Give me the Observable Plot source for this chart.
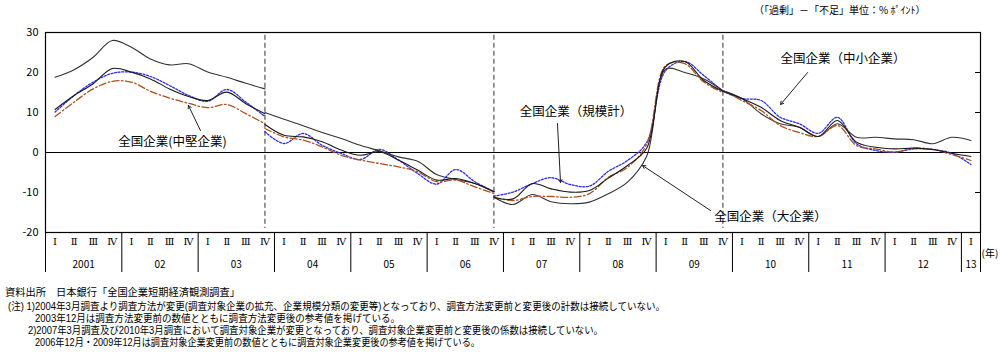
<!DOCTYPE html>
<html><head><meta charset="utf-8">
<script src="https://cdn.jsdelivr.net/npm/d3@7"></script>
<script src="https://cdn.jsdelivr.net/npm/@observablehq/plot@0.6"></script>
<style>
body{margin:0;background:#fff;font-family:"Noto Sans CJK JP",sans-serif;color:#000;}
#wrap{position:relative;width:1000px;height:355px;overflow:hidden;}
#title{position:absolute;left:754px;top:2px;font-size:10px;white-space:nowrap;}
#chart{position:absolute;left:0;top:20px;}
.note{position:absolute;font-family:"Liberation Sans","Noto Sans CJK JP",sans-serif;font-size:10.2px;white-space:nowrap;line-height:11px;height:11px;transform-origin:0 50%;}
</style></head><body>
<div id="wrap">
<div id="title">（「過剰」－「不足」単位：% ﾎﾟｲﾝﾄ）</div>
<div id="chart"></div>
<div class="note" data-end="240" style="left:5px;top:287px;">資料出所　日本銀行「全国企業短期経済観測調査」</div>
<div class="note" data-end="665" style="left:8px;top:301px;">(注) 1)2004年3月調査より調査方法が変更(調査対象企業の拡充、企業規模分類の変更等)となっており、調査方法変更前と変更後の計数は接続していない。</div>
<div class="note" data-end="400" style="left:35px;top:313px;">2003年12月は調査方法変更前の数値とともに調査方法変更後の参考値を掲げている。</div>
<div class="note" data-end="603" style="left:28px;top:325px;">2)2007年3月調査及び2010年3月調査において調査対象企業が変更となっており、調査対象企業変更前と変更後の係数は接続していない。</div>
<div class="note" data-end="480" style="left:35px;top:337px;">2006年12月・2009年12月は調査対象企業変更前の数値とともに調査対象企業変更後の参考値を掲げている。</div>
</div>
<script>
// ---- categories ----
const quarterLabels = ["Ⅰ","Ⅱ","Ⅲ","Ⅳ"];
const yearLabels = ["2001","02","03","04","05","06","07","08","09","10","11","12","13"];
const nQuarters = 49; // 2001Q1 .. 2013Q1
const segStarts = [0, 11, 23, 35]; // 2003Q4, 2006Q4, 2009Q4 have both old and new values
const breakQuarters = [11, 23, 35];
const yTicks = [-20, -10, 0, 10, 20, 30];

// ---- series values (DI, % points) ----
// 全国企業(規模計)
const allSeg1 = [10.1, 14.25, 17.6, 19.8, 20.1, 19, 16.75, 14.25, 12.8, 15.75, 12.6, 9];
const allSeg2 = [5.2, 2.25, 4.75, 1.8, -0.25, -1.75, 0.75, -1.9, -5.25, -7.9, -4.25, -7.3, -9.8];
const allSeg3 = [-10.9, -9.9, -7.8, -6.3, -8, -8.4, -4.7, -2, 2.5, 20.5, 22.75, 19.25, 15.3];
const allSeg4 = [15.3, 13.5, 13, 8.8, 7.2, 4.8, 8.8, 2.2, 0.5, 0.1, 0.9, 0.75, -0.2, -3];
// 全国企業(大企業)
const largeSeg1 = [18.8, 20.7, 23.8, 28, 26.3, 23.4, 21.9, 22.2, 20.1, 18.8, 17.3, 15.9];
const largeSeg2 = [10, 8.3, 6.7, 5, 3.5, 1.8, 0.4, -1.1, -2.2, -5.5, -6.75, -7.75, -9.8];
const largeSeg3 = [-11.2, -13, -10.5, -12.3, -12.8, -12.4, -10.3, -7.4, -1, 20.8, 20, 18.4, 15.5];
const largeSeg4 = [15.5, 13.5, 9.7, 7.2, 6.3, 4, 7.2, 3.8, 3.8, 3.4, 3.2, 2.2, 3.8, 3];
// 全国企業(中堅企業)
const midSeg1 = [9, 12.6, 15.9, 17.8, 17.6, 15.3, 13.6, 12.3, 11.2, 12, 9.7, 7.2];
const midSeg2 = [6, 3.9, 3.1, 1.4, -0.7, -1.9, -2.75, -3.6, -4.8, -7.3, -6.9, -8.6, -10.25];
const midSeg3 = [-11.2, -12, -11, -11, -11.2, -10.3, -6.2, -3.7, 2, 21.75, 22.2, 17.6, 15];
const midSeg4 = [15.5, 13, 10.5, 6.75, 5, 4, 6.75, 1.75, 0.9, 0.1, 1.1, 0.75, -0.5, -2];
// 全国企業(中小企業)
const smallSeg1 = [10.75, 14.25, 17.2, 21, 20.1, 18.4, 15.9, 14, 13, 15.1, 12.2, 9.7];
const smallSeg2 = [7, 4.3, 3.9, 2.7, 0.6, -0.7, 0.2, -1.9, -4.4, -6.9, -6.5, -7.75, -9.8];
const smallSeg3 = [-11.2, -11.6, -7.8, -9.1, -9.9, -9.5, -6.4, -3.25, 1, 21.5, 22.75, 18, 15.3];
const smallSeg4 = [15.3, 13.5, 11.3, 8, 6.3, 4, 8, 2.6, 1.3, 0.9, 1.1, 0.75, -0.2, -1];

const seriesNames = ["全国企業（規模計）", "全国企業（大企業）", "全国企業(中堅企業)", "全国企業（中小企業）"];

// annotation labels (position in quarter index / DI units)
const labelTexts = ["全国企業(中堅企業)", "全国企業（規模計）", "全国企業（中小企業）", "全国企業（大企業）"];
const labelQ = [6.66, 27.8, 41.8, 38.0];
const labelV = [2.75, 10.25, 23.5, -16];
const arrowFromQ = [8.12, 26.83, 39.94, 34.85];
const arrowFromV = [5.5, 7.25, 20, -14.5];
const arrowToQ = [7.49, 26.99, 38.52, 31.29];
const arrowToV = [11.75, -7.5, 12, -3.25];

// ---- build table ----
const segs = {
  "全国企業（規模計）": [allSeg1, allSeg2, allSeg3, allSeg4],
  "全国企業（大企業）": [largeSeg1, largeSeg2, largeSeg3, largeSeg4],
  "全国企業(中堅企業)": [midSeg1, midSeg2, midSeg3, midSeg4],
  "全国企業（中小企業）": [smallSeg1, smallSeg2, smallSeg3, smallSeg4]
};
const rows = [];
for (const name of seriesNames) {
  segs[name].forEach((arr, k) => {
    arr.forEach((v, j) => rows.push({series: name, seg: name + k, q: segStarts[k] + j + 0.5, v}));
  });
}
const qRows = d3.range(nQuarters).map(i => ({q: i + 0.5, t: quarterLabels[i % 4]}));
const yRows = yearLabels.map((t, k) => ({q: k === 12 ? 48.5 : k * 4 + 2, t}));
const seps = d3.range(0, nQuarters, 4).concat([nQuarters]);
const labels = labelTexts.map((t, k) => ({t, q: labelQ[k], v: labelV[k], x1: arrowFromQ[k], y1: arrowFromV[k], x2: arrowToQ[k], y2: arrowToV[k]}));

const styles = {
  "全国企業（規模計）": {stroke: "#2b2bff", dash: "2,1.6", w: 1.3},
  "全国企業（大企業）": {stroke: "#333333", dash: null, w: 1.1},
  "全国企業(中堅企業)": {stroke: "#b0501c", dash: "7,2.5,1.5,2.5", w: 1.3},
  "全国企業（中小企業）": {stroke: "#1a1a1a", dash: null, w: 1.1}
};
const lineMarks = seriesNames.map(name => Plot.line(rows.filter(r => r.series === name), {
  x: "q", y: "v", z: "seg", curve: "catmull-rom",
  stroke: styles[name].stroke, strokeWidth: styles[name].w,
  strokeDasharray: styles[name].dash
}));

const font = "'Noto Sans CJK JP', sans-serif";
const chart = Plot.plot({
  width: 1000, height: 258,
  marginTop: 12, marginBottom: 46, marginLeft: 45, marginRight: 20,
  style: {fontFamily: font, fontSize: "11px", background: "white", color: "black"},
  x: {domain: [0, nQuarters], axis: null},
  y: {domain: [-20, 30], axis: null},
  marks: [
    Plot.axisY({ticks: yTicks, tickSize: 0, tickPadding: 7, tickFormat: d => String(d), fontSize: 11}),
    Plot.ruleY([0], {stroke: "black", strokeWidth: 1.2}),
    Plot.ruleX(breakQuarters, {x: d => d + 0.5, y1: 29.3, y2: -19, stroke: "#444", strokeDasharray: "5,3", strokeWidth: 1.1}),
    Plot.ruleY(yTicks.filter(d => d > -20 && d < 30 && d !== 0), {x1: nQuarters - 0.26, x2: nQuarters, stroke: "black"}),
    ...lineMarks,
    Plot.frame({stroke: "black", strokeWidth: 1.2}),
    Plot.ruleX(seps, {x: d => d, y1: -20, y2: -30, stroke: "black"}),
    Plot.text(qRows, {x: "q", y: -22.2, text: "t", fontSize: 10, fontFamily: "'DejaVu Serif', serif"}),
    Plot.text(yRows, {x: "q", y: -28, text: "t", fontSize: 10}),
    Plot.text(["(年)"], {x: nQuarters, y: -25.3, text: d => d, textAnchor: "start", dx: 1, fontSize: 10}),
    Plot.arrow(labels, {x1: "x1", y1: "y1", x2: "x2", y2: "y2", stroke: "#222", strokeWidth: 1, headLength: 5}),
    Plot.text(labels, {x: "q", y: "v", text: "t", fontSize: 12.5, fill: "black"})
  ]
});
document.getElementById("chart").appendChild(chart);

function fitNotes() {
  document.querySelectorAll(".note").forEach(el => {
    el.style.transform = "none";
    const left = parseFloat(el.style.left);
    const target = +el.dataset.end - left;
    const w = el.getBoundingClientRect().width;
    if (w > 0) el.style.transform = `scaleX(${target / w})`;
  });
}
fitNotes();
if (document.fonts && document.fonts.ready) document.fonts.ready.then(fitNotes);
</script>
</body></html>
